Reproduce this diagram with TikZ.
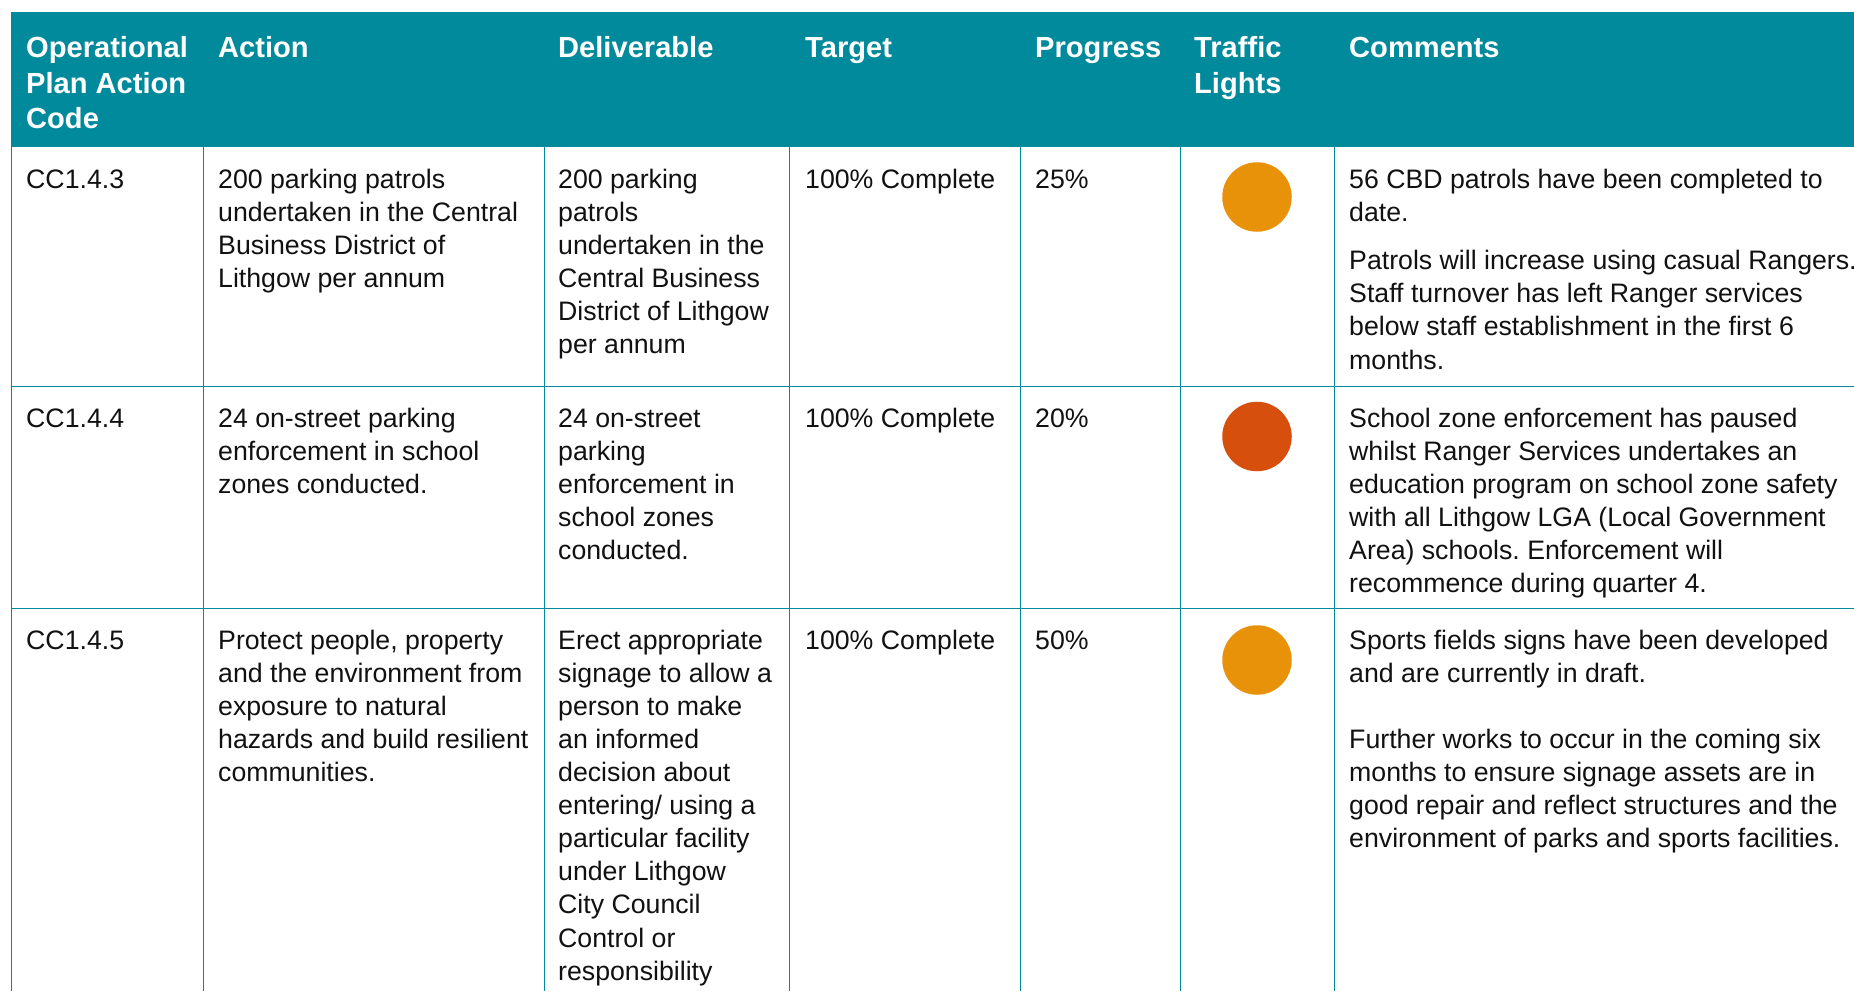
\documentclass[tikz,border=0pt]{standalone}
\usepackage{fontspec}
\setmainfont{Liberation Sans}
\frenchspacing
\definecolor{teal}{HTML}{008A9B}
\definecolor{amber}{HTML}{E8920A}
\definecolor{rust}{HTML}{D64F0C}
\definecolor{ink}{HTML}{111111}
\begin{document}
\begin{tikzpicture}[x=1pt,y=-1pt,
  hd/.style={anchor=north west,inner sep=0pt,align=left,text=white,
    font=\fontsize{29.1}{35.8}\selectfont\bfseries},
  bd/.style={anchor=north west,inner sep=0pt,align=left,text=ink,
    font=\fontsize{26.7}{33.1}\selectfont},
  grid/.style={draw=teal,line width=1pt},
  light/.style={circle,inner sep=0pt,minimum size=69.5pt}]
\useasboundingbox (0,0) rectangle (1854,991);
\fill[white] (0,0) rectangle (1854,991);
% header band
\fill[teal] (11,12) rectangle (1854,147);
% grid lines
\draw[grid] (11,386) -- (1854,386);
\draw[grid] (11,608) -- (1854,608);
\foreach \xx in {11,203,544,789,1020,1180,1334}
  \draw[grid] (\xx,147) -- (\xx,991);
% header texts (baseline 57)
\node[hd] (h1) at (26,31.94) {\strut Operational\\Plan Action\\Code};
\node[hd] (h2) at (218,31.94) {\strut Action};
\node[hd] (h3) at (558,31.94) {\strut Deliverable};
\node[hd] (h4) at (805,31.94) {\strut Target};
\node[hd] (h5) at (1035,31.94) {\strut Progress};
\node[hd] (h6) at (1194,31.94) {\strut Traffic\\Lights};
\node[hd] (h7) at (1349,31.94) {\strut Comments};
% row 1 (baseline 188)
\node[bd] (r1a) at (26,164.8) {\strut CC1.4.3};
\node[bd] (r1b) at (218,164.8) {\strut 200 parking patrols\\undertaken in the Central\\Business District of\\Lithgow per annum};
\node[bd] (r1c) at (558,164.8) {\strut 200 parking\\patrols\\undertaken in the\\Central Business\\District of Lithgow\\per annum};
\node[bd] (r1d) at (805,164.8) {\strut 100\% Complete};
\node[bd] (r1e) at (1035,164.8) {\strut 25\%};
\node[light,fill=amber] (r1f) at (1257,197) {};
\node[bd] (r1g) at (1349,164.8) {\strut 56 CBD patrols have been completed to\\date.\\[15.4pt]Patrols will increase using casual Rangers.\\Staff turnover has left Ranger services\\below staff establishment in the first 6\\months.};
% row 2 (baseline 427)
\node[bd] (r2a) at (26,403.8) {\strut CC1.4.4};
\node[bd] (r2b) at (218,403.8) {\strut 24 on-street parking\\enforcement in school\\zones conducted.};
\node[bd] (r2c) at (558,403.8) {\strut 24 on-street\\parking\\enforcement in\\school zones\\conducted.};
\node[bd] (r2d) at (805,403.8) {\strut 100\% Complete};
\node[bd] (r2e) at (1035,403.8) {\strut 20\%};
\node[light,fill=rust] (r2f) at (1257,436.5) {};
\node[bd] (r2g) at (1349,403.8) {\strut School zone enforcement has paused\\whilst Ranger Services undertakes an\\education program on school zone safety\\with all Lithgow LGA (Local Government\\Area) schools. Enforcement will\\recommence during quarter 4.};
% row 3 (baseline 649)
\node[bd] (r3a) at (26,625.8) {\strut CC1.4.5};
\node[bd] (r3b) at (218,625.8) {\strut Protect people, property\\and the environment from\\exposure to natural\\hazards and build resilient\\communities.};
\node[bd] (r3c) at (558,625.8) {\strut Erect appropriate\\signage to allow a\\person to make\\an informed\\decision about\\entering/ using a\\particular facility\\under Lithgow\\City Council\\Control or\\responsibility};
\node[bd] (r3d) at (805,625.8) {\strut 100\% Complete};
\node[bd] (r3e) at (1035,625.8) {\strut 50\%};
\node[light,fill=amber] (r3f) at (1257,660) {};
\node[bd] (r3g) at (1349,625.8) {\strut Sports fields signs have been developed\\and are currently in draft.\\[33.1pt]Further works to occur in the coming six\\months to ensure signage assets are in\\good repair and reflect structures and the\\environment of parks and sports facilities.};
\end{tikzpicture}
\end{document}
